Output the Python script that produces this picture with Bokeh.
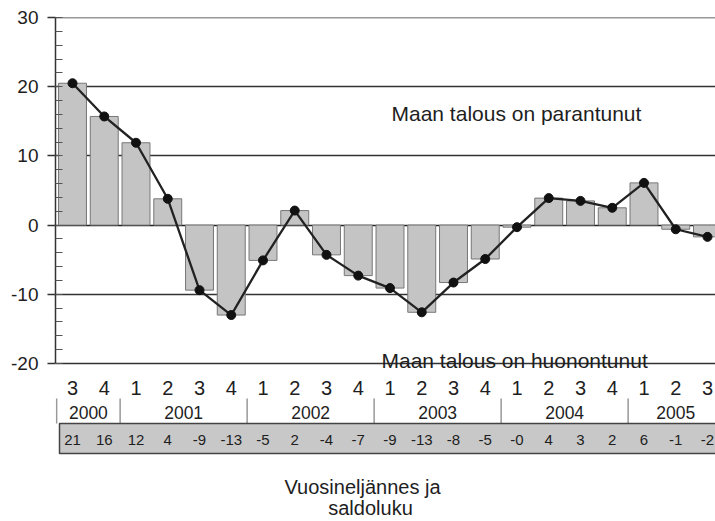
from bokeh.plotting import figure
from bokeh.models import Range1d, FixedTicker
from bokeh.embed import file_html
from bokeh.resources import INLINE
from bokeh.core.properties import value

# ---- data ----
quarters = ["3", "4", "1", "2", "3", "4", "1", "2", "3", "4", "1", "2",
            "3", "4", "1", "2", "3", "4", "1", "2", "3"]
quarter_years = [2000, 2000, 2001, 2001, 2001, 2001, 2002, 2002, 2002, 2002,
                 2003, 2003, 2003, 2003, 2004, 2004, 2004, 2004, 2005, 2005, 2005]
years = [2000, 2001, 2002, 2003, 2004, 2005]
balance = [20.5, 15.7, 11.9, 3.8, -9.4, -13.0, -5.1, 2.1, -4.3, -7.3, -9.1,
           -12.6, -8.3, -4.9, -0.3, 3.9, 3.5, 2.5, 6.1, -0.6, -1.7]
saldo_labels = ["21", "16", "12", "4", "-9", "-13", "-5", "2", "-4", "-7", "-9",
                "-13", "-8", "-5", "-0", "4", "3", "2", "6", "-1", "-2"]
y_ticks = [-20, -10, 0, 10, 20, 30]
y_tick_labels = ["-20", "-10", "0", "10", "20", "30"]
grid_levels = [30, 20, 10, -10, -20]
label_up = "Maan talous on parantunut"
label_down = "Maan talous on huonontunut"
title_lines = ["Vuosineljännes ja", "saldoluku"]

FONT = "Liberation Sans"
TXT = "#1e1e1e"

idx = list(range(len(quarters)))

# ---- layout (pixel geometry converted to data units) ----
W, H = 715, 521
BL, BT = 55, 17
frame_w = W - BL
frame_h = H - BT
px_per_unit_y = 6.92
px_per_cat = 31.75
x0 = -17 / px_per_cat
y_top = 30
y_bot = y_top - frame_h / px_per_unit_y


def ypx(page_y):
    # page pixel -> data y
    return y_top - (page_y - BT) / px_per_unit_y


def xpx(page_x):
    return (page_x - (BL + 17)) / px_per_cat


p = figure(width=W, height=H, output_backend="svg", toolbar_location=None,
           x_range=Range1d(x0, x0 + frame_w / px_per_cat),
           y_range=Range1d(y_bot, y_top),
           min_border_left=BL, min_border_right=0, min_border_top=BT,
           min_border_bottom=0, x_axis_location=None)
p.outline_line_color = None
p.xgrid.visible = False
p.ygrid.visible = False
p.background_fill_color = "white"
p.border_fill_color = "white"

ax = p.yaxis[0]
ax.bounds = (-20, 30)
ax.ticker = FixedTicker(ticks=y_ticks, minor_ticks=list(range(-20, 31, 2)))
ax.major_label_overrides = dict(zip(y_ticks, y_tick_labels))
ax.major_label_text_font = FONT
ax.major_label_text_font_size = "19px"
ax.major_label_text_color = TXT
ax.major_label_standoff = 9
ax.axis_line_color = "#333333"
ax.axis_line_width = 1.5
ax.major_tick_line_color = "#333333"
ax.major_tick_line_width = 1.5
ax.major_tick_in = 0
ax.major_tick_out = 8
ax.minor_tick_line_color = "#555555"
ax.minor_tick_in = 7
ax.minor_tick_out = 0

# gridlines
p.hspan(y=grid_levels, line_color="#333333", line_width=1.5)
p.hspan(y=[0], line_color="#222222", line_width=1.6)

# bars
p.vbar(x=idx, top=balance, bottom=0, width=0.88,
       fill_color="#c4c4c4", line_color="#777777", line_width=1)

# line with markers
p.line(idx, balance, line_color="#222222", line_width=2.3)
p.scatter(idx, balance, size=9, fill_color="#111111", line_color="#111111")

# annotations inside plot
p.text(x=[xpx(391)], y=[ypx(113)], text=[label_up], text_font=value(FONT),
       text_font_size="21px", text_color=TXT, text_baseline="alphabetic",
       text_align="left")
p.text(x=[xpx(381)], y=[ypx(360)], text=[label_down], text_font=value(FONT),
       text_font_size="21px", text_color=TXT, text_baseline="alphabetic",
       text_align="left")

# quarter labels
p.text(x=idx, y=[ypx(387)] * len(idx), text=quarters, text_font=value(FONT),
       text_font_size="20px", text_color=TXT, text_align="center",
       text_baseline="middle")

# year labels centred over their quarters
year_x = []
for yv in years:
    members = [i for i, q in enumerate(quarter_years) if q == yv]
    year_x.append(sum(members) / len(members))
p.text(x=year_x, y=[ypx(412)] * len(years), text=[str(v) for v in years],
       text_font=value(FONT), text_font_size="17.5px", text_color=TXT,
       text_align="center", text_baseline="middle")

# separators between years
sep_x = [-0.5]
for i in range(1, len(quarter_years)):
    if quarter_years[i] != quarter_years[i - 1]:
        sep_x.append(i - 0.5)
p.segment(x0=sep_x, y0=[ypx(398)] * len(sep_x), x1=sep_x,
          y1=[ypx(423)] * len(sep_x), line_color="#999999", line_width=1.5)

# balance band
p.quad(left=[xpx(59)], right=[len(idx) + 1], top=[ypx(423)], bottom=[ypx(453)],
       fill_color="#c8c8c8", line_color="#444444", line_width=1.5)
p.text(x=idx, y=[ypx(439)] * len(idx), text=saldo_labels, text_font=value(FONT),
       text_font_size="15px", text_color=TXT, text_align="center",
       text_baseline="middle")

# axis title below
p.text(x=[xpx(362)], y=[ypx(486)], text=[title_lines[0]], text_font=value(FONT),
       text_font_size="20px", text_color=TXT, text_align="center",
       text_baseline="alphabetic")
p.text(x=[xpx(370)], y=[ypx(507)], text=[title_lines[1]], text_font=value(FONT),
       text_font_size="20px", text_color=TXT, text_align="center",
       text_baseline="alphabetic")

open("out.html", "w").write(file_html(p, INLINE))
